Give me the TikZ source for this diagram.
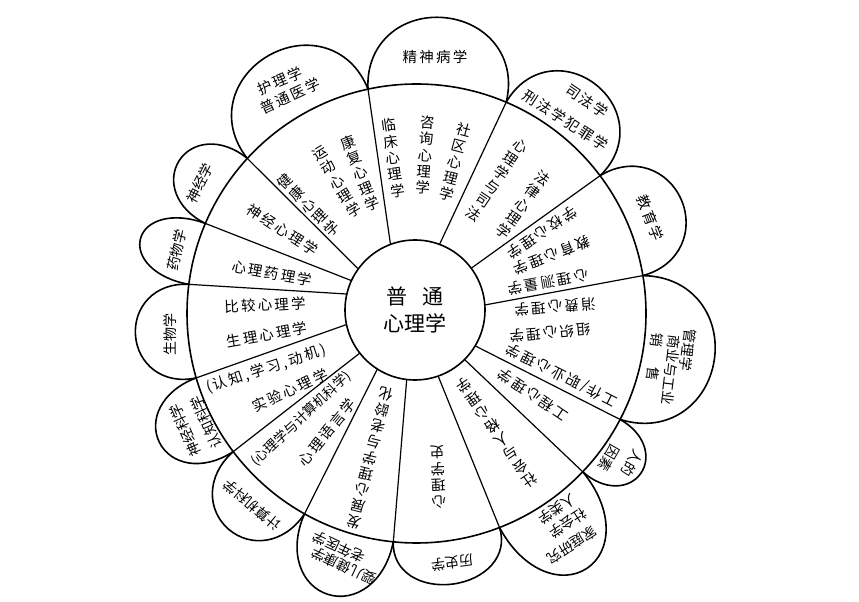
\documentclass[tikz,border=0pt]{standalone}
\usepackage{fontspec}
\newfontfamily\cjk[LetterSpace=15]{Noto Sans CJK SC}
\newfontfamily\cjkv{Noto Sans CJK SC}
\usetikzlibrary{calc}
\newcommand\drawpetal[3]{%
  \coordinate (M#1) at ($(J#1)!0.5!(J#2)$);
  \coordinate (T#1) at ($(M#1)!#3!90:(J#2)$);
  \draw[petalline] (J#1) .. controls ($(J#1)+0.6*(T#1)-0.6*(M#1)+0.1*(J#1)-0.1*(M#1)$) and ($(T#1)+0.6*(J#1)-0.6*(M#1)$) .. (T#1)
     .. controls ($(T#1)+0.6*(J#2)-0.6*(M#1)$) and ($(J#2)+0.6*(T#1)-0.6*(M#1)+0.1*(J#2)-0.1*(M#1)$) .. (J#2);
}
\begin{document}
\begin{tikzpicture}[x=1pt,y=1pt,
  ring/.style={line width=1.6pt},
  spokeline/.style={line width=1.2pt},
  petalline/.style={line width=1.6pt},
  lbl/.style={font=\cjk\fontsize{14.5}{16.5}\selectfont, inner sep=0pt, align=center},
  vlbl/.style={font=\cjkv\fontsize{14.5}{16.5}\selectfont, inner sep=0pt, align=center},
  plbl/.style={font=\cjkv\fontsize{14}{17}\selectfont, inner sep=0pt, align=center},
  centerlbl/.style={font=\cjkv\fontsize{21}{27}\selectfont, inner sep=0pt, align=center}]
\useasboundingbox (0,0) rectangle (859,602);
\coordinate (O) at (416.5,288.5);
\coordinate (I) at (415,292);
\foreach \n/\a in {1/102.2,2/67.0,3/36.9,4/9.5,5/-27.5,6/-43.6,7/-68.8,8/-95.8,9/-119.2,10/-143.0,11/-163.7,12/172.7,13/156.9,14/137.5}
  \coordinate (J\n) at ($(O)+(\a:229.5)$);
\foreach \n/\a in {1/110.5,2/69.5,3/36.6,4/4.1,5/-30.8,6/-45,7/-70.7,8/-96.8,9/-122.5,10/-142,11/-168,12/166.8,13/155.2,14/144.1}
  \coordinate (K\n) at ($(I)+(\a:70)$);
% petals
\drawpetal{1}{2}{1.13}
\drawpetal{2}{3}{1.16}
\drawpetal{3}{4}{1.2}
\drawpetal{4}{5}{1.15}
\drawpetal{5}{6}{1.5}
\drawpetal{6}{7}{1.65}
\drawpetal{7}{8}{0.93}
\drawpetal{8}{9}{1.5}
\drawpetal{9}{10}{1.3}
\drawpetal{10}{11}{1.5}
\drawpetal{11}{12}{1.22}
\drawpetal{12}{13}{1.86}
\drawpetal{13}{14}{1.45}
\drawpetal{14}{1}{1.13}
% ring and spokes
\draw[ring] (O) circle[radius=229.5];
\foreach \n in {1,...,14} \draw[spokeline] (J\n) -- (K\n);
\draw[ring] (I) circle[radius=70];
\node[centerlbl] (c) at (I) {普\hspace{0.7em}通\\心理学};
% petal labels
\node[lbl] (p1) at (435,545) {精神病学};
\node[lbl, rotate=-34] (p2a) at (587,501) {司法学};
\node[lbl, rotate=-33] (p2b) at (566,482) {刑法学犯罪学};
\node[lbl, rotate=-69] (p3) at (650,384) {教育学};
\node[plbl, rotate=-97] (p4a) at (688,252) {管理学};
\node[plbl, rotate=-97] (p4b) at (671,232) {商业与工业};
\node[plbl, rotate=-97] (p4c) at (655,245) {销\hspace{1.5em}售};
\node[plbl, rotate=-120] (p5a) at (632,139) {人的};
\node[plbl, rotate=-120] (p5b) at (609,144) {因素};
\node[plbl, rotate=213] (p6a) at (572,57) {家庭研究};
\node[plbl, rotate=213] (p6b) at (568,79) {社会学};
\node[plbl, rotate=213] (p6c) at (557,93) {人类学};
\node[plbl, rotate=188] (p7) at (452,39) {历史学};
\node[plbl, rotate=155] (p8a) at (344,36) {婴儿健康学};
\node[plbl, rotate=155] (p8b) at (339,55) {老年医学};
\node[plbl, rotate=140] (p9) at (252,97) {计算机科学};
\node[plbl, rotate=114] (p10a) at (185,172) {神经科学};
\node[plbl, rotate=114] (p10b) at (206,180) {认知科学};
\node[plbl, rotate=90] (p11) at (170,267) {生物学};
\node[plbl, rotate=77] (p12) at (177,352) {药物学};
\node[plbl, rotate=63] (p13) at (200,419) {神经学};
\node[lbl, rotate=23] (p14a) at (280,521) {护理学};
\node[lbl, rotate=25] (p14b) at (290,506) {普通医学};
% sector labels
\node[vlbl, rotate=8] (s1a) at (393,444) {临\\床\\心\\理\\学};
\node[vlbl, rotate=-4] (s1b) at (425,447) {咨\\询\\心\\理\\学};
\node[vlbl, rotate=-15] (s1c) at (455,440) {社\\区\\心\\理\\学};
\node[vlbl, rotate=-34] (s2a) at (497,422) {心\\理\\学\\与\\司\\法};
\node[vlbl, rotate=-36] (s2b) at (523,397) {法\\律\\心\\理\\学};
\node[lbl, rotate=214] (s3a) at (542,369) {学校心理学};
\node[lbl, rotate=201] (s3b) at (552,347) {教育心理学};
\node[lbl, rotate=190] (s3c) at (548,320) {心理测量学};
\node[lbl, rotate=184] (s4a) at (555,295) {消费心理学};
\node[lbl, rotate=185] (s4b) at (550,269) {组织心理学};
\node[lbl, rotate=153] (s4c) at (562,227) {工作/职业心理学};
\node[lbl, rotate=146] (s5) at (533,207) {工程心理学};
\node[vlbl, rotate=215] (s6) at (497,169) {社\\会\\与\\人\\格\\心\\理\\学};
\node[vlbl, rotate=182] (s7) at (438,125) {心\\理\\学\\史};
\node[vlbl, rotate=166] (s8) at (370,144) {发\\展\\心\\理\\学\\与\\老\\龄\\化};
\node[plbl, font=\cjkv\fontsize{13.5}{16}\selectfont, rotate=43] (s9a) at (301,183) {(心理学与计算机科学)};
\node[lbl, rotate=51] (s9b) at (327,170) {心理语言学};
\node[lbl, rotate=25] (s10a) at (290,212) {实验心理学};
\node[lbl, rotate=18] (s10b) at (266,233) {(认知,\,学习,\,动机)};
\node[lbl, rotate=10] (s11a) at (267,267) {生理心理学};
\node[lbl, rotate=3] (s11b) at (265,297) {比较心理学};
\node[lbl, rotate=-10] (s12) at (272,329) {心理药理学};
\node[lbl, rotate=-33] (s13) at (283,372) {神经心理学};
\node[vlbl, rotate=45] (s14a) at (308,397) {健\\康\\心\\理\\学};
\node[vlbl, rotate=31] (s14b) at (337,420) {运\\动\\心\\理\\学};
\node[vlbl, rotate=22] (s14c) at (360,429) {康\\复\\心\\理\\学};
\end{tikzpicture}
\end{document}
